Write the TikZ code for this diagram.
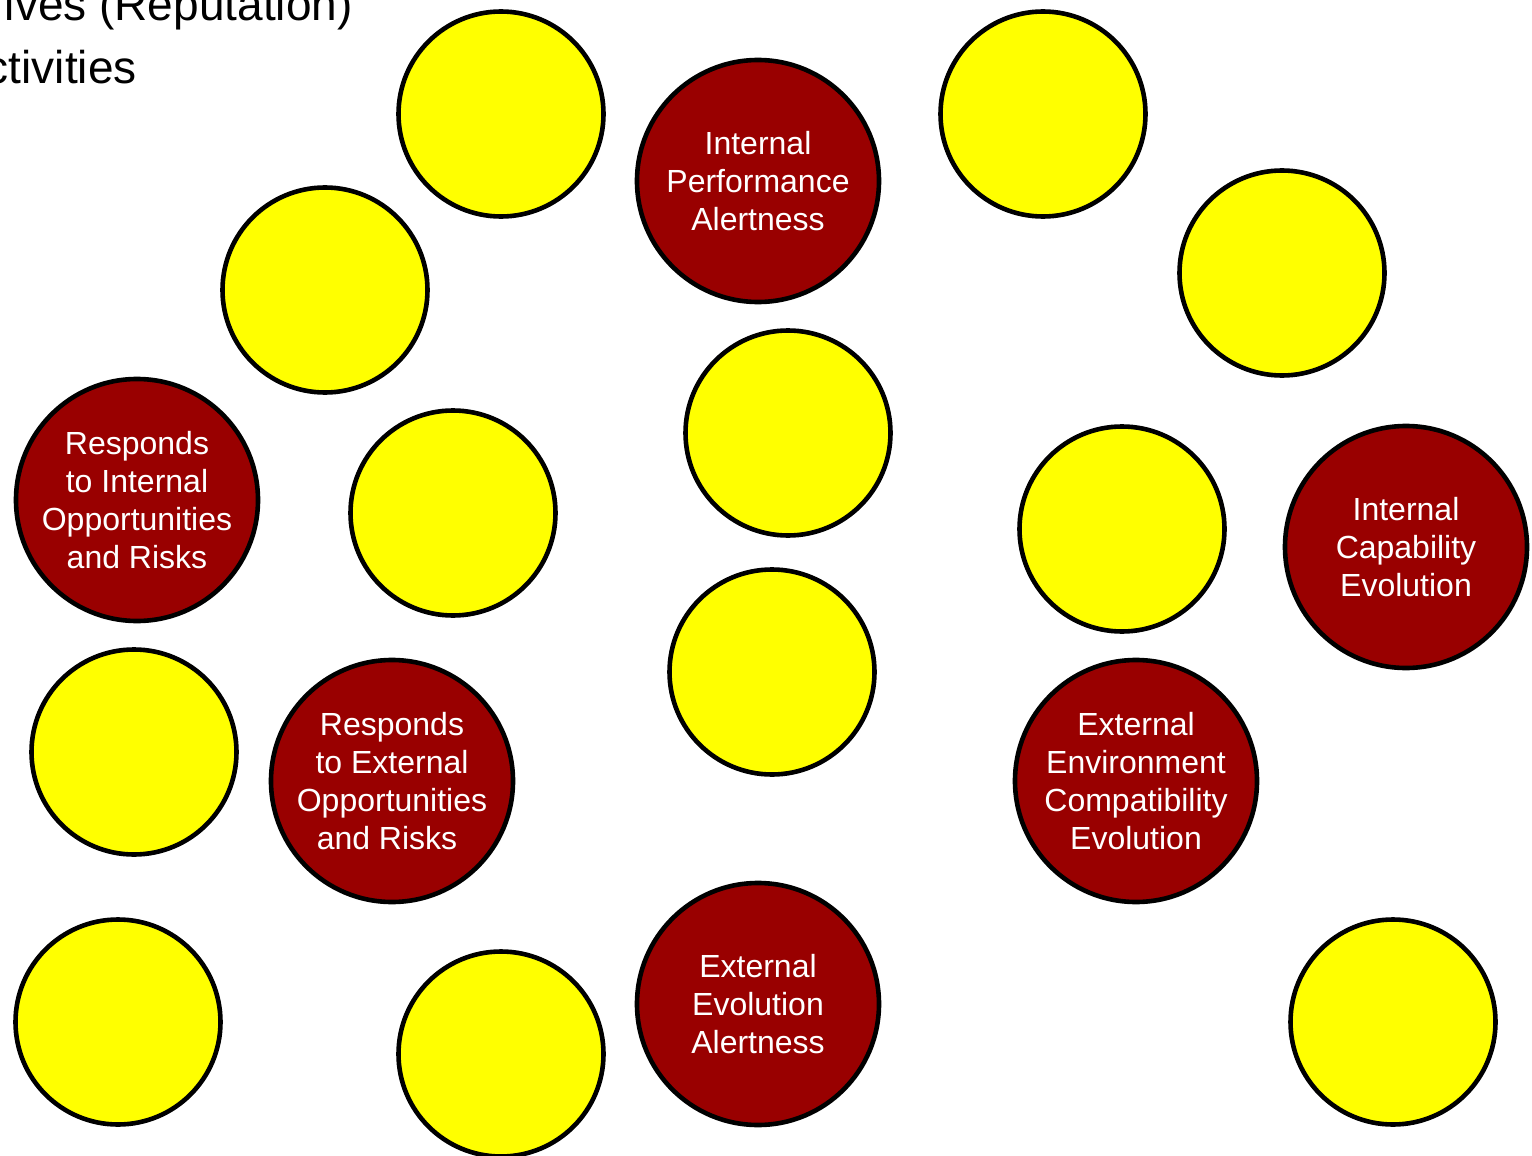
\documentclass[tikz,border=0pt]{standalone}
\usepackage{fontspec}
\setmainfont{Liberation Sans}
\definecolor{deepred}{HTML}{990000}
\definecolor{brightyellow}{HTML}{FFFF00}
\tikzset{
  blob/.style={circle, draw=black, line width=2.3pt, inner sep=0pt},
  plain/.style={blob, fill=brightyellow, minimum size=102.5pt},
  topic/.style={blob, fill=deepred, minimum size=121pt, text=white,
    align=center, font=\fontsize{16}{19}\selectfont},
  heading/.style={font=\fontsize{23}{27}\selectfont, text=black, inner sep=0pt}
}
\begin{document}
\begin{tikzpicture}[x=0.5pt, y=-0.5pt]
\useasboundingbox (0,0) rectangle (1532,1156);
\clip (0,0) rectangle (1532,1156);
\fill[white] (0,0) rectangle (1532,1156);

% heading fragments at the top left
\node[heading, anchor=base east] (h1) at (353,21) {ives (Reputation)};
\node[heading, anchor=base east] (h2) at (137,84) {ctivities};

% yellow circles
\node[plain] (y1)  at (501,114) {};
\node[plain] (y2)  at (325,290) {};
\node[plain] (y3)  at (1043,114) {};
\node[plain] (y4)  at (1282,273) {};
\node[plain] (y5)  at (788,433) {};
\node[plain] (y6)  at (453,513) {};
\node[plain] (y7)  at (1122,529) {};
\node[plain] (y8)  at (772,672) {};
\node[plain] (y9)  at (134,752) {};
\node[plain] (y10) at (118,1022) {};
\node[plain] (y11) at (501,1054) {};
\node[plain] (y12) at (1393,1022) {};

% dark red topic circles
\node[topic] (ipa) at (758,181) {Internal\\Performance\\Alertness};
\node[topic] (rio) at (137,500) {Responds\\to Internal\\Opportunities\\and Risks};
\node[topic] (ice) at (1406,547) {Internal\\Capability\\Evolution};
\node[topic] (reo) at (392,781) {Responds\\to External\\Opportunities\\and Risks\hspace*{5pt}};
\node[topic] (eec) at (1136,781) {External\\Environment\\Compatibility\\Evolution};
\node[topic] (eea) at (758,1004) {External\\Evolution\\Alertness};
\end{tikzpicture}
\end{document}
